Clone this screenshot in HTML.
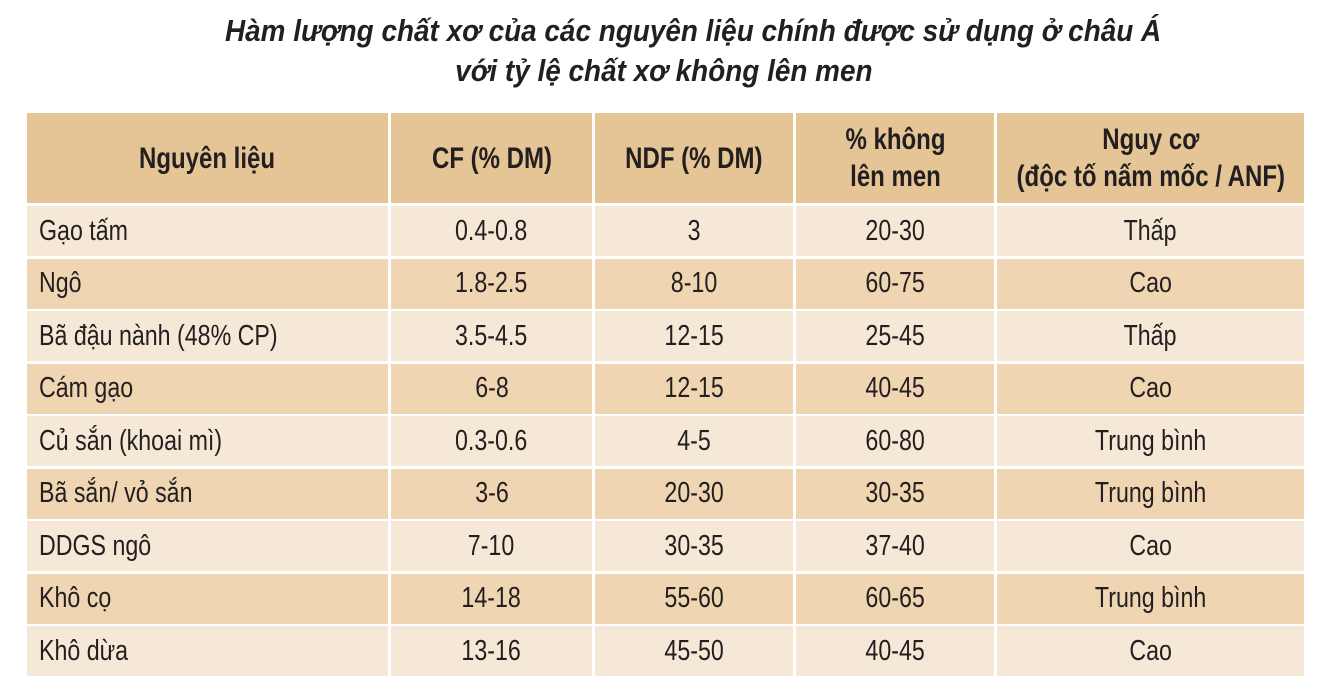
<!DOCTYPE html>
<html><head><meta charset="utf-8"><style>
body{margin:0;width:1327px;height:693px;background:#fff;position:relative;overflow:hidden;font-family:"Liberation Sans",sans-serif;color:#231f20}
.t{position:absolute;left:0;width:1327px;text-align:center;font-weight:bold;font-style:italic;font-size:31px}
.t span{display:inline-block;transform:scaleX(0.9);white-space:nowrap}
.c{position:absolute;display:flex;align-items:center;justify-content:center;font-size:29px;box-sizing:border-box}
.c span{display:inline-block;transform:scaleX(0.8);white-space:nowrap}
.l span{transform-origin:left center}
.h{background:#e5c495;font-weight:bold;text-align:center;line-height:37px;font-size:30px}
.l{justify-content:flex-start;padding-left:12px}
.a{background:#f5e8d6}.b{background:#efd5b2}
</style></head><body>
<div class="t" style="top:13px;left:30px"><span>Hàm lượng chất xơ của các nguyên liệu chính được sử dụng ở châu Á</span></div>
<div class="t" style="top:53px"><span>với tỷ lệ chất xơ không lên men</span></div>
<div id="g"></div>
<script>
var cols=[[27,361],[391,201],[595,198],[796,198],[997,307]];
var hd=["Nguyên liệu","CF (% DM)","NDF (% DM)","% không<br>lên men","Nguy cơ<br>(độc tố nấm mốc / ANF)"];
var rows=[["Gạo tấm","0.4-0.8","3","20-30","Thấp"],["Ngô","1.8-2.5","8-10","60-75","Cao"],["Bã đậu nành (48% CP)","3.5-4.5","12-15","25-45","Thấp"],["Cám gạo","6-8","12-15","40-45","Cao"],["Củ sắn (khoai mì)","0.3-0.6","4-5","60-80","Trung bình"],["Bã sắn/ vỏ sắn","3-6","20-30","30-35","Trung bình"],["DDGS ngô","7-10","30-35","37-40","Cao"],["Khô cọ","14-18","55-60","60-65","Trung bình"],["Khô dừa","13-16","45-50","40-45","Cao"]];
var h="";
cols.forEach(function(c,i){h+='<div class="c h" style="left:'+c[0]+'px;top:113px;width:'+c[1]+'px;height:90px"><span>'+hd[i]+'</span></div>';});
rows.forEach(function(r,j){var y=206+j*52.5;r.forEach(function(v,i){var c=cols[i];h+='<div class="c '+(j%2?'b':'a')+(i==0?' l':'')+'" style="left:'+c[0]+'px;top:'+y+'px;width:'+c[1]+'px;height:50px"><span>'+v+'</span></div>';});});
document.getElementById("g").innerHTML=h;
</script>
</body></html>
